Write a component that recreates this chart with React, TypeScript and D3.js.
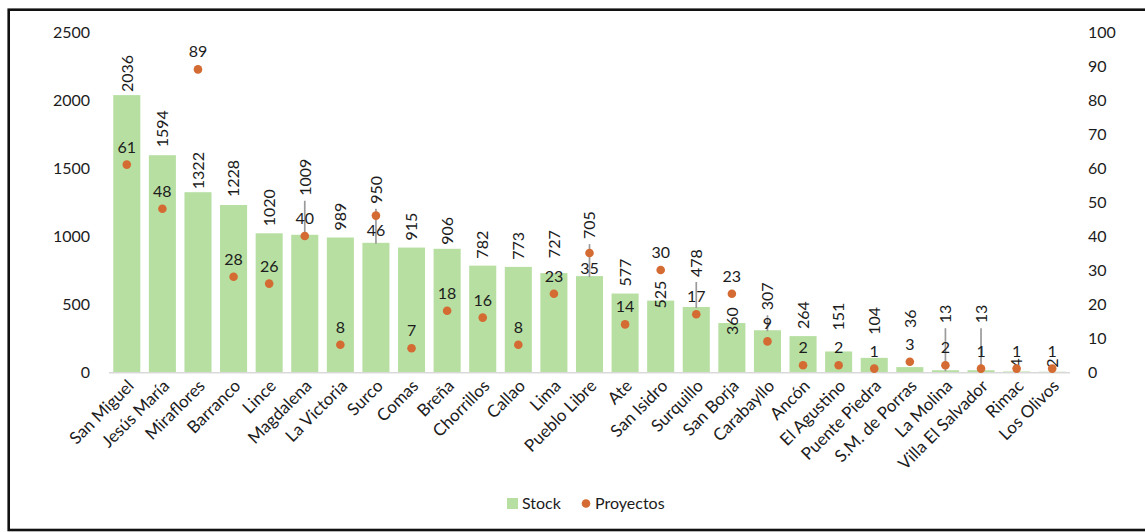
import React from "react";
import * as d3 from "d3";

const categories = [
  "San Miguel", "Jesús María", "Miraflores", "Barranco", "Lince", "Magdalena",
  "La Victoria", "Surco", "Comas", "Breña", "Chorrillos", "Callao", "Lima",
  "Pueblo Libre", "Ate", "San Isidro", "Surquillo", "San Borja", "Carabayllo",
  "Ancón", "El Agustino", "Puente Piedra", "S.M. de Porras", "La Molina",
  "Villa El Salvador", "Rimac", "Los Olivos",
];
const stock = [
  2036, 1594, 1322, 1228, 1020, 1009, 989, 950, 915, 906, 782, 773, 727, 705,
  577, 525, 478, 360, 307, 264, 151, 104, 36, 13, 13, 4, 2,
];
const proyectos = [
  61, 48, 89, 28, 26, 40, 8, 46, 7, 18, 16, 8, 23, 35, 14, 30, 17, 23, 9, 2, 2,
  1, 3, 2, 1, 1, 1,
];
const leftTicks = [0, 500, 1000, 1500, 2000, 2500];
const rightTicks = [0, 10, 20, 30, 40, 50, 60, 70, 80, 90, 100];
const seriesNames = ["Stock", "Proyectos"];

// label layout (how far each Stock label sits above its bar top, px)
const stockLabelLift: Record<string, number> = {
  "San Miguel": 3, "Jesús María": 8, "Miraflores": 3, "Barranco": 8, "Lince": 7,
  "Magdalena": 39, "La Victoria": 7, "Surco": 39, "Comas": 7, "Breña": 4,
  "Chorrillos": 7, "Callao": 7, "Lima": 15, "Pueblo Libre": 37, "Ate": 7,
  "San Isidro": -8, "Surquillo": 30, "San Borja": -12, "Carabayllo": 20,
  "Ancón": 7, "El Agustino": 21, "Puente Piedra": 23, "S.M. de Porras": 39,
  "La Molina": 47, "Villa El Salvador": 47, "Rimac": 4, "Los Olivos": 4,
};
const withLeader = new Set([
  "Magdalena", "Surco", "Pueblo Libre", "Surquillo", "Carabayllo", "La Molina",
  "Villa El Salvador",
]);
const proyLabelBelow = new Set(["Surco", "Pueblo Libre"]);

const W = 1145;
const H = 532;
const X0 = 109;
const X1 = 1070;
const Y0 = 372;
const Y1 = 32;
const FONT = "Lato, 'Open Sans', sans-serif";
const BAR = "#b7dfa2";
const DOT = "#d46b32";
const TXT = "#1c1c1c";

export default function App() {
  const x = d3.scaleBand<string>().domain(categories).range([X0, X1]).paddingInner(0.24).paddingOuter(0.12);
  const yL = d3.scaleLinear().domain([0, 2500]).range([Y0, Y1]);
  const yR = d3.scaleLinear().domain([0, 100]).range([Y0, Y1]);
  const bw = x.bandwidth();
  const cx = (c: string) => (x(c) as number) + bw / 2;

  return (
    <svg
      width={W}
      height={H}
      style={{ position: "absolute", left: 0, top: 0, background: "#fff" }}
      fontFamily={FONT}
    >
      <rect x={8.7} y={9.7} width={W} height={520.3} fill="#fff" stroke="#111" strokeWidth={2.6} />

      {/* left axis labels */}
      {leftTicks.map((t) => (
        <text key={"l" + t} x={90} y={yL(t)} dy="0.36em" textAnchor="end" fontSize={16} fill={TXT}>
          {t}
        </text>
      ))}
      {/* right axis labels */}
      {rightTicks.map((t) => (
        <text key={"r" + t} x={1088} y={yR(t)} dy="0.36em" textAnchor="start" fontSize={16} fill={TXT}>
          {t}
        </text>
      ))}

      {/* bars */}
      {categories.map((c, i) => (
        <rect key={"b" + c} x={x(c)} y={yL(stock[i])} width={bw} height={Y0 - yL(stock[i])} fill={BAR} />
      ))}

      {/* axis line */}
      <line x1={X0} x2={X1} y1={Y0 + 0.8} y2={Y0 + 0.8} stroke="#d9d9d9" strokeWidth={1.6} />

      {/* leader lines */}
      {categories.map((c, i) => {
        if (!withLeader.has(c)) return null;
        const top = yL(stock[i]);
        const lift = stockLabelLift[c] ?? 6;
        return (
          <line key={"ld" + c} x1={cx(c)} x2={cx(c)} y1={top - lift + 5} y2={top + 1} stroke="#9a9a9a" strokeWidth={1.7} />
        );
      })}

      {/* stock labels */}
      {categories.map((c, i) => {
        const top = yL(stock[i]);
        const lift = stockLabelLift[c] ?? 6;
        const px = cx(c);
        const py = top - lift;
        return (
          <text
            key={"sl" + c}
            transform={`translate(${px},${py}) rotate(-90)`}
            dy="0.36em"
            textAnchor="start"
            fontSize={16}
            fill={TXT}
          >
            {stock[i]}
          </text>
        );
      })}

      {/* proyectos dots */}
      {categories.map((c, i) => (
        <circle key={"d" + c} cx={cx(c)} cy={yR(proyectos[i])} r={4.3} fill={DOT} />
      ))}

      {/* proyectos labels */}
      {categories.map((c, i) => {
        const py = yR(proyectos[i]);
        const below = proyLabelBelow.has(c);
        return (
          <text key={"pl" + c} x={cx(c)} y={below ? py + 20.5 : py - 12} textAnchor="middle" fontSize={16} fill={TXT}>
            {proyectos[i]}
          </text>
        );
      })}

      {/* category labels */}
      {categories.map((c) => (
        <text
          key={"c" + c}
          transform={`translate(${cx(c) - 1},${Y0 + 6}) rotate(-45)`}
          textAnchor="end"
          dy="0.75em"
          fontSize={17}
          fill={TXT}
        >
          {c}
        </text>
      ))}

      {/* legend */}
      <rect x={507} y={498} width={11} height={11} fill={BAR} />
      <text x={522} y={509} fontSize={16} fill={TXT}>{seriesNames[0]}</text>
      <circle cx={586} cy={503.5} r={4.3} fill={DOT} />
      <text x={595} y={509} fontSize={16} fill={TXT}>{seriesNames[1]}</text>
    </svg>
  );
}
